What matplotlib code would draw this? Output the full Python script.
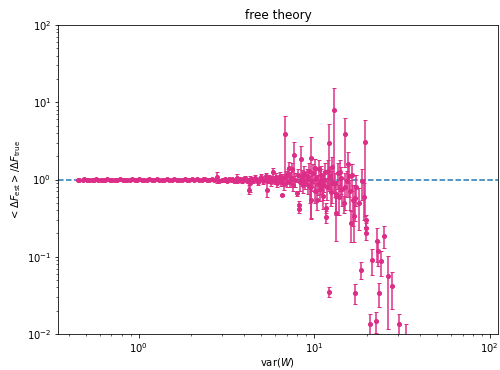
import matplotlib
matplotlib.use('Agg')
import matplotlib.pyplot as plt
import numpy as np

# var(W) vs ratio of estimated to true free energy difference
band_x = [0.45, 0.46, 0.48, 0.49, 0.51, 0.52, 0.54, 0.56, 0.57, 0.59,
          0.61, 0.63, 0.64, 0.66, 0.69, 0.71, 0.73, 0.75, 0.78, 0.81,
          0.84, 0.86, 0.89, 0.92, 0.95, 0.98, 1.01, 1.04, 1.08, 1.12,
          1.15, 1.19, 1.23, 1.27, 1.31, 1.36, 1.40, 1.45, 1.50, 1.55,
          1.60, 1.66, 1.71, 1.77, 1.83, 1.89, 1.95, 2.02, 2.08, 2.15,
          2.22, 2.30, 2.37, 2.45, 2.53, 2.62, 2.70, 2.79, 2.88, 2.97]
band_y = [1.00, 0.99, 1.00, 1.01, 1.00, 0.99, 1.00, 1.00, 1.01, 0.99,
          1.00, 1.00, 0.99, 1.01, 1.00, 1.00, 0.99, 1.00, 1.01, 1.00,
          0.99, 1.00, 1.00, 1.02, 0.99, 1.00, 1.01, 1.00, 0.98, 1.00,
          1.01, 1.00, 0.99, 1.01, 1.00, 1.00, 0.98, 1.01, 1.00, 0.99,
          1.02, 1.00, 1.00, 0.99, 1.01, 1.00, 0.98, 1.02, 1.00, 1.01,
          0.99, 1.00, 1.03, 0.98, 1.00, 1.02, 0.99, 1.08, 0.97, 1.00]
band_err = [0.01, 0.01, 0.01, 0.01, 0.01, 0.01, 0.01, 0.01, 0.01, 0.01,
            0.01, 0.01, 0.01, 0.01, 0.01, 0.01, 0.01, 0.01, 0.01, 0.01,
            0.01, 0.01, 0.01, 0.02, 0.01, 0.01, 0.02, 0.01, 0.02, 0.01,
            0.02, 0.01, 0.02, 0.02, 0.01, 0.02, 0.02, 0.02, 0.01, 0.02,
            0.03, 0.02, 0.02, 0.02, 0.03, 0.02, 0.03, 0.03, 0.02, 0.03,
            0.02, 0.03, 0.04, 0.03, 0.03, 0.04, 0.03, 0.17, 0.04, 0.03]

mid_x = [3.05, 3.12, 3.20, 3.28, 3.35, 3.42, 3.50, 3.58,
         3.62, 3.70, 3.78, 3.86, 3.95, 4.03, 4.12, 4.20,
         4.27, 4.31, 4.40, 4.50, 4.60, 4.70, 4.80, 4.90,
         5.00, 5.10, 5.20, 5.30, 5.37, 5.45, 5.55, 5.65,
         5.75, 5.85, 5.95, 6.05, 6.15, 6.25, 6.35, 6.45,
         6.56, 6.65, 6.75, 6.83, 6.92, 7.00, 7.10, 7.20,
         7.30, 7.40, 7.50, 7.60, 7.72, 7.80, 7.96, 8.05,
         8.18, 8.20, 8.30, 8.46, 8.55, 8.65, 8.80, 8.90]
mid_y = [1.00, 1.02, 0.97, 1.01, 0.99, 1.03, 0.96, 1.00,
         1.05, 0.98, 1.02, 0.95, 1.01, 1.04, 0.97, 1.00,
         0.74, 0.90, 1.03, 0.96, 1.06, 0.99, 0.93, 1.02,
         1.08, 0.95, 1.00, 1.10, 0.74, 0.97, 1.05, 0.92,
         1.03, 1.25, 0.96, 1.08, 0.90, 1.02, 1.12, 0.94,
         0.63, 1.05, 0.88, 3.92, 1.10, 0.93, 1.18, 1.40,
         0.95, 1.06, 1.35, 0.86, 2.07, 1.00, 0.66, 1.15,
         0.47, 0.42, 0.92, 1.82, 1.08, 0.85, 1.20, 0.97]
mid_err = [0.02, 0.03, 0.03, 0.02, 0.04, 0.03, 0.04, 0.03,
           0.14, 0.04, 0.03, 0.05, 0.04, 0.06, 0.04, 0.05,
           0.10, 0.22, 0.05, 0.06, 0.07, 0.05, 0.08, 0.06,
           0.09, 0.07, 0.06, 0.10, 0.15, 0.08, 0.09, 0.10,
           0.08, 0.15, 0.09, 0.12, 0.10, 0.08, 0.14, 0.11,
           0.02, 0.12, 0.15, 2.80, 0.18, 0.14, 0.20, 0.30,
           0.16, 0.18, 0.28, 0.15, 0.95, 0.20, 0.05, 0.22,
           0.05, 0.05, 0.20, 0.90, 0.25, 0.18, 0.30, 0.22]

tail_x = [9.05, 9.20, 9.35, 9.57, 9.60, 9.75, 9.90, 10.05,
          10.2, 10.4, 10.55, 10.7, 10.85, 11.0, 11.2, 11.4,
          11.55, 11.7, 11.7, 11.9, 12.1, 12.1, 12.3, 12.5,
          12.7, 12.9, 13.1, 13.4, 13.6, 13.9, 14.2, 14.5,
          14.7, 15.0, 15.3, 15.6, 15.9, 16.2, 16.4, 16.9,
          17.0, 17.0, 17.3, 17.9, 18.5, 18.8, 19.2, 19.6,
          19.8, 19.8, 19.8,
          9.45, 10.1, 10.9, 11.3, 12.0, 12.6, 13.3, 14.0,
          14.9, 15.8, 16.6]
tail_y = [1.10, 0.85, 1.30, 1.91, 0.55, 0.95, 1.20, 0.70,
          1.05, 0.55, 0.88, 1.35, 0.75, 1.15, 0.62, 0.98,
          1.25, 0.43, 0.33, 0.80, 3.00, 0.0354, 1.10, 0.68,
          1.45, 7.87, 0.90, 0.37, 1.20, 0.60, 1.05, 0.75,
          0.49, 3.84, 0.95, 1.60, 0.70, 0.274, 1.15, 0.334,
          0.57, 0.0344, 0.80, 0.50, 0.068, 0.95, 0.60, 3.09,
          0.296, 0.236, 0.204,
          0.80, 1.40, 1.00, 0.85, 1.30, 0.90, 0.65, 1.25,
          0.80, 1.10, 0.55]
tail_err = [0.25, 0.20, 0.35, 1.60, 0.23, 0.25, 0.40, 0.20,
            0.30, 0.15, 0.25, 0.45, 0.22, 0.35, 0.20, 0.30,
            0.40, 0.06, 0.06, 0.25, 2.30, 0.005, 0.35, 0.22,
            0.50, 7.20, 0.30, 0.21, 0.45, 0.25, 0.40, 0.30,
            0.12, 2.40, 0.35, 0.70, 0.30, 0.12, 0.45, 0.18,
            0.28, 0.010, 0.35, 0.28, 0.017, 0.40, 0.30, 2.75,
            0.05, 0.04, 0.04,
            0.30, 0.45, 0.35, 0.30, 0.50, 0.40, 0.30, 0.55,
            0.40, 0.50, 0.30]

far_x = [20.7, 21.4, 22.6, 22.8, 23.1, 23.5, 24.1, 24.9, 26.4, 27.9, 30.3, 33.4]
far_y = [0.0134, 0.0915, 0.0149, 0.161, 0.117, 0.0344, 0.087, 0.188,
         0.0566, 0.042, 0.0134, 0.008]
far_err = [0.0046, 0.033, 0.0046, 0.075, 0.04, 0.012, 0.03, 0.06,
           0.045, 0.021, 0.0046, 0.0054]

var_w = band_x + mid_x + tail_x + far_x
ratio = band_y + mid_y + tail_y + far_y
ratio_err = band_err + mid_err + tail_err + far_err

fig = plt.figure(figsize=(500 / 72, 370 / 72), dpi=72)
ax = fig.add_axes([58.3 / 500, 36 / 370, 439.4 / 500, 309 / 370])

ax.axhline(1.0, color='tab:blue', linestyle='--', linewidth=1.5)
ax.errorbar(var_w, ratio, yerr=ratio_err, fmt='o', color='#dc2d87',
            markersize=4, elinewidth=1.5, capsize=2)

ax.set_xscale('log')
ax.set_yscale('log')
ax.set_xlim(0.349, 111)
ax.set_ylim(1e-2, 1e2)
ax.set_title('free theory')
ax.set_xlabel(r'var($W$)', labelpad=1)
ax.set_ylabel(r'$<\Delta F_{\rm est}>/\Delta F_{\rm true}$')

fig.savefig('out.png', dpi=72)
